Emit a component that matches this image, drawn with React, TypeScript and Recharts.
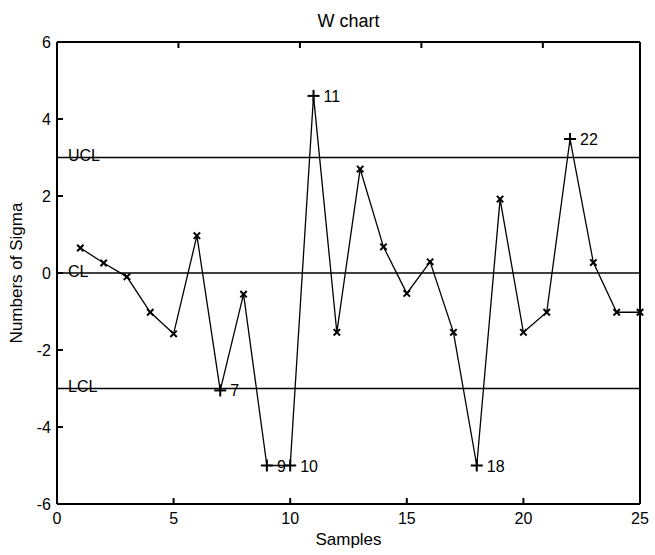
import React from 'react';
import { LineChart, Line, XAxis, YAxis, ReferenceLine, LabelList } from 'recharts';

// W chart: standardized sample statistic in units of sigma
const samples = [1, 2, 3, 4, 5, 6, 7, 8, 9, 10, 11, 12, 13, 14, 15, 16, 17, 18, 19, 20, 21, 22, 23, 24, 25];
const sigmaValues = [
  0.65, 0.26, -0.1, -1.02, -1.58, 0.97, -3.05, -0.55, -5.0, -5.0, 4.6, -1.54, 2.7,
  0.68, -0.53, 0.29, -1.54, -5.0, 1.92, -1.54, -1.02, 3.48, 0.27, -1.02, -1.02,
];
// samples falling outside the control limits
const outOfControl = [7, 9, 10, 11, 18, 22];

const controlLimits = [
  { name: 'UCL', value: 3 },
  { name: 'CL', value: 0 },
  { name: 'LCL', value: -3 },
];

const xTicks = [0, 5, 10, 15, 20, 25];
const yTicks = [-6, -4, -2, 0, 2, 4, 6];

const data = samples.map((s, i) => ({ sample: s, sigma: sigmaValues[i] }));

const FONT = '"Liberation Sans", Arial, Helvetica, sans-serif';

// 'x' for in-control points, '+' for flagged ones
const renderDot = (props: any) => {
  const { cx, cy, payload, index } = props;
  if (cx == null || cy == null) return <g key={`dot-${index}`} />;
  if (outOfControl.includes(payload.sample)) {
    const r = 6;
    return (
      <g key={`dot-${index}`} stroke="#000" strokeWidth={2}>
        <line x1={cx - r} y1={cy} x2={cx + r} y2={cy} />
        <line x1={cx} y1={cy - r} x2={cx} y2={cy + r} />
      </g>
    );
  }
  const r = 3.2;
  return (
    <g key={`dot-${index}`} stroke="#000" strokeWidth={2}>
      <line x1={cx - r} y1={cy - r} x2={cx + r} y2={cy + r} />
      <line x1={cx - r} y1={cy + r} x2={cx + r} y2={cy - r} />
    </g>
  );
};

const renderFlag = (props: any) => {
  const { x, y, value } = props;
  if (!outOfControl.includes(value)) return null;
  return (
    <text x={x + 10} y={y} dy={6} fontSize={16} fill="#000" fontFamily={FONT}>
      {value}
    </text>
  );
};

export default function App() {
  return (
    <div style={{ position: 'absolute', left: 0, top: 0, width: 655, height: 555, background: '#fff', fontFamily: FONT }}>
      <div
        style={{
          position: 'absolute',
          left: 57,
          width: 583,
          top: 12,
          textAlign: 'center',
          fontSize: 18,
          lineHeight: '18px',
          color: '#000',
        }}
      >
        W chart
      </div>
      <LineChart width={655} height={555} data={data} margin={{ top: 41, right: 14, bottom: 0, left: 0 }}>
        <XAxis
          dataKey="sample"
          type="number"
          domain={[0, 25]}
          ticks={xTicks}
          height={51}
          tickSize={-6}
          tickMargin={15}
          stroke="#000"
          strokeWidth={2}
          tick={{ fill: '#000', fontSize: 16 }}
          label={{ value: 'Samples', position: 'insideBottom', offset: 10, fill: '#000', fontSize: 17 }}
        />
        <XAxis
          xAxisId="top"
          orientation="top"
          type="number"
          domain={[0, 25]}
          ticks={xTicks}
          height={1}
          tickSize={-6}
          tickFormatter={() => ''}
          stroke="#000"
          strokeWidth={2}
        />
        <YAxis
          type="number"
          domain={[-6, 6]}
          ticks={yTicks}
          width={57}
          tickSize={-6}
          tickMargin={12}
          stroke="#000"
          strokeWidth={2}
          tick={{ fill: '#000', fontSize: 16 }}
          label={{
            value: 'Numbers of Sigma',
            angle: -90,
            position: 'insideLeft',
            offset: 16,
            fill: '#000',
            fontSize: 17,
            style: { textAnchor: 'middle' },
          }}
        />
        <YAxis
          yAxisId="right"
          orientation="right"
          type="number"
          domain={[-6, 6]}
          ticks={yTicks}
          width={1}
          tickSize={-6}
          tickFormatter={() => ''}
          stroke="#000"
          strokeWidth={2}
        />
        {controlLimits.map((c) => (
          <ReferenceLine
            key={c.name}
            y={c.value}
            stroke="#000"
            strokeWidth={1.5}
            label={{ value: c.name, position: 'insideLeft', offset: 11, fill: '#000', fontSize: 16, dy: -2 }}
          />
        ))}
        <Line
          dataKey="sigma"
          stroke="#000"
          strokeWidth={1.3}
          dot={renderDot}
          activeDot={false}
          isAnimationActive={false}
        >
          <LabelList dataKey="sample" content={renderFlag} />
        </Line>
      </LineChart>
    </div>
  );
}
